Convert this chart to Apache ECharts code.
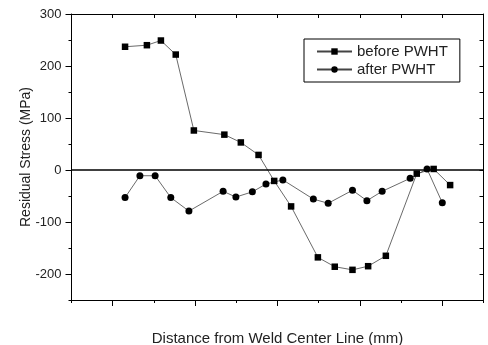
<!DOCTYPE html>
<html>
<head>
<meta charset="utf-8">
<script src="https://cdn.jsdelivr.net/npm/echarts@6/dist/echarts.min.js"></script>
<style>
  html, body { margin: 0; padding: 0; background: #fff; }
  #chart { width: 488px; height: 345px; }
</style>
</head>
<body>
<div id="chart"></div>
<script>
// distance positions (axis units, 1 unit = one minor tick step) and stresses (MPa)
const beforeX = [1.30, 1.83, 2.17, 2.53, 2.97, 3.71, 4.11, 4.54, 4.92, 5.33, 5.98, 6.39, 6.82, 7.20, 7.63, 8.38, 8.79, 9.19];
const beforeY = [237, 240, 249, 222, 76, 68, 53, 29, -21, -70, -168, -186, -192, -185, -165, -7, 2, -29];
const afterX = [1.30, 1.66, 2.03, 2.41, 2.85, 3.68, 3.99, 4.39, 4.72, 5.13, 5.87, 6.23, 6.82, 7.17, 7.54, 8.22, 8.63, 9.00];
const afterY = [-53, -11, -11, -53, -79, -41, -52, -42, -27, -19, -56, -64, -39, -59, -41, -16, 2, -63];
const yTicks = [300, 200, 100, 0, -100, -200];

const font = 'Liberation Sans, Arial, sans-serif';
const pair = (xs, ys) => xs.map((x, i) => [x, ys[i]]);

const chart = echarts.init(document.getElementById('chart'));

const blank = { show: false };
const frame = { show: true, onZero: false, lineStyle: { color: '#000', width: 1 } };
const option = {
  animation: false,
  textStyle: { fontFamily: font },
  grid: [
    // main plotting area
    { left: 71.5, right: 4.5, top: 14, bottom: 45, outerBoundsMode: 'none', containLabel: false },
    // major x ticks (positions 1,3,5,7,9)
    { left: 112.7, right: 45.7, top: 14, bottom: 45, outerBoundsMode: 'none', containLabel: false },
    // labelled y ticks (-200 .. 300)
    { left: 71.5, right: 4.5, top: 14, bottom: 71, outerBoundsMode: 'none', containLabel: false }
  ],
  xAxis: [
    {
      gridIndex: 0, type: 'value', position: 'bottom', min: 0, max: 10, interval: 1,
      axisLine: frame,
      axisTick: { show: true, inside: false, length: 3, lineStyle: { color: '#000' } },
      axisLabel: blank, splitLine: blank,
      name: 'Distance from Weld Center Line (mm)', nameLocation: 'middle', nameGap: 31,
      nameTextStyle: { fontSize: 15, color: '#222', fontFamily: font }
    },
    {
      gridIndex: 0, type: 'value', position: 'top', min: 0, max: 10, interval: 1,
      axisLine: frame,
      axisTick: { show: true, inside: true, length: 4, lineStyle: { color: '#000' } },
      axisLabel: blank, splitLine: blank
    },
    {
      gridIndex: 1, type: 'value', position: 'bottom', min: 0, max: 8, interval: 2,
      axisLine: { show: false, onZero: false },
      axisTick: { show: true, inside: false, length: 6, lineStyle: { color: '#000' } },
      axisLabel: blank, splitLine: blank
    },
    {
      gridIndex: 2, type: 'value', min: 0, max: 10, show: false
    }
  ],
  yAxis: [
    {
      gridIndex: 0, type: 'value', position: 'left', min: -250, max: 300, interval: 50,
      axisLine: frame,
      axisTick: { show: true, inside: false, length: 3, lineStyle: { color: '#000' } },
      axisLabel: blank, splitLine: blank,
      name: 'Residual Stress (MPa)', nameLocation: 'middle', nameGap: 38, nameRotate: 90,
      nameTextStyle: { fontSize: 14, color: '#222', fontFamily: font }
    },
    {
      gridIndex: 0, type: 'value', position: 'right', min: -250, max: 300, interval: 50,
      axisLine: frame,
      axisTick: { show: true, inside: true, length: 4, lineStyle: { color: '#000' } },
      axisLabel: blank, splitLine: blank
    },
    {
      gridIndex: 1, type: 'value', min: 0, max: 10, show: false
    },
    {
      gridIndex: 2, type: 'value', position: 'left', min: -200, max: 300, interval: 100,
      axisLine: { show: false, onZero: false },
      axisTick: { show: true, inside: false, length: 6, lineStyle: { color: '#000' } },
      axisLabel: {
        margin: 10, fontSize: 13, color: '#222', fontFamily: font,
        formatter: v => (yTicks.includes(v) ? String(v) : '')
      },
      splitLine: blank
    }
  ],
  legend: {
    left: 304, top: 39,
    orient: 'vertical',
    itemWidth: 35, itemHeight: 8, itemGap: 3,
    padding: [5, 12, 5, 12],
    borderColor: '#000', borderWidth: 1,
    textStyle: { fontSize: 15, color: '#222', fontFamily: font },
    data: ['before PWHT', 'after PWHT']
  },
  series: [
    {
      name: 'before PWHT', type: 'line', xAxisIndex: 0, yAxisIndex: 0,
      data: pair(beforeX, beforeY),
      symbol: 'rect', symbolSize: 6.5,
      itemStyle: { color: '#000' },
      lineStyle: { color: '#444', width: 0.8 },
      markLine: {
        silent: true, symbol: 'none', label: blank,
        lineStyle: { color: '#000', width: 1.5, type: 'solid' },
        data: [{ yAxis: 0 }]
      }
    },
    {
      name: 'after PWHT', type: 'line', xAxisIndex: 0, yAxisIndex: 0,
      data: pair(afterX, afterY),
      symbol: 'circle', symbolSize: 7,
      itemStyle: { color: '#000' },
      lineStyle: { color: '#444', width: 0.8 }
    }
  ]
};

chart.setOption(option);
</script>
</body>
</html>
